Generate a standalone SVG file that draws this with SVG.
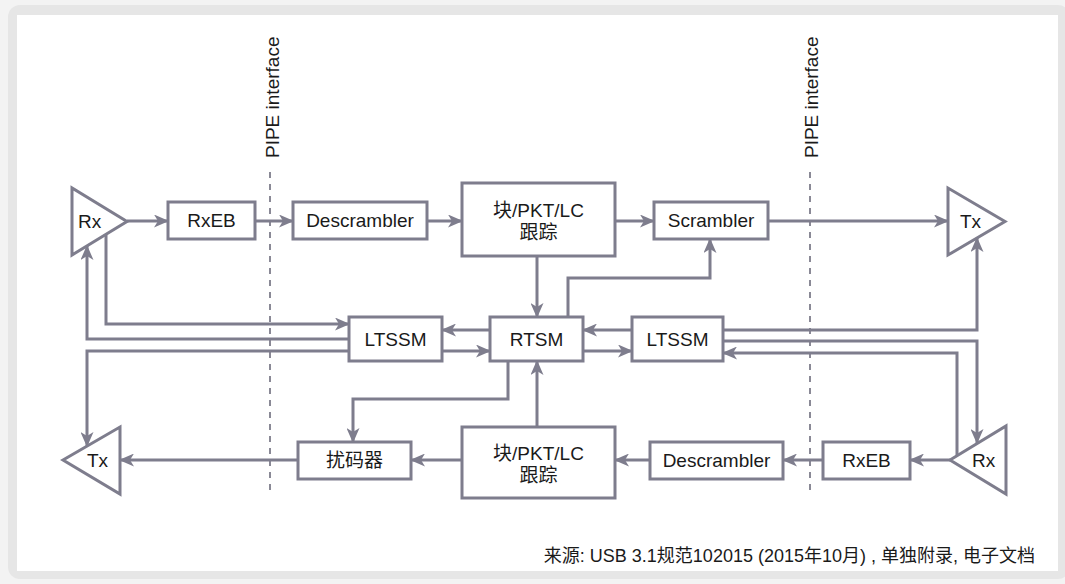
<svg xmlns="http://www.w3.org/2000/svg" width="1065" height="584" viewBox="0 0 1065 584">
<style>
.box{fill:#fff;stroke:#7e7d8d;stroke-width:3}
.tri{fill:#fff;stroke:#7e7d8d;stroke-width:3;stroke-linejoin:miter}
.lbl{font-family:"Liberation Sans","Noto Sans CJK SC",sans-serif;font-size:19px;fill:#1a1a1a}
.c{text-anchor:middle}
.con{fill:none;stroke:#7e7d8d;stroke-width:3;marker-end:url(#ah)}
.dash{stroke:#8a8996;stroke-width:2;stroke-dasharray:6 6;fill:none}
</style>
<defs>
<marker id="ah" viewBox="0 0 15 13" refX="14" refY="6.5" markerWidth="15" markerHeight="13" markerUnits="userSpaceOnUse" orient="auto">
<path d="M0,0 L15,6.5 L0,13 L4,6.5 Z" fill="#7e7d8d"/>
</marker>
</defs>
<rect x="0" y="0" width="1065" height="584" fill="#f3f3f3"/>
<rect x="8" y="5" width="1062" height="574" rx="12" fill="#e6e6e6"/>
<rect x="17" y="15" width="1041" height="556" fill="#ffffff"/>

<g id="pipe-left">
<line class="dash" x1="270" y1="172" x2="270" y2="494"/>
<text class="lbl" transform="translate(279,158) rotate(-90)">PIPE interface</text>
</g>
<g id="pipe-right">
<line class="dash" x1="810" y1="172" x2="810" y2="494"/>
<text class="lbl" transform="translate(818,158) rotate(-90)">PIPE interface</text>
</g>

<g id="connectors">
<path class="con" d="M127,221 H168"/>
<path class="con" d="M255,221 H293"/>
<path class="con" d="M427,221 H462"/>
<path class="con" d="M615,221 H654"/>
<path class="con" d="M768,221 H948"/>
<path class="con" d="M537,256 V317"/>
<path class="con" d="M568,317 V278 H710 V239"/>
<path class="con" d="M490,330 H442"/>
<path class="con" d="M442,351 H490"/>
<path class="con" d="M632,330 H583"/>
<path class="con" d="M583,351 H632"/>
<path class="con" d="M106,235 V324 H349"/>
<path class="con" d="M349,339 H87 V246"/>
<path class="con" d="M349,351 H87 V446"/>
<path class="con" d="M723,330 H977 V238"/>
<path class="con" d="M723,341 H977 V443"/>
<path class="con" d="M957,456 V353 H723"/>
<path class="con" d="M950,460 H910"/>
<path class="con" d="M823,460 H783"/>
<path class="con" d="M650,460 H615"/>
<path class="con" d="M462,460 H411"/>
<path class="con" d="M298,460 H120"/>
<path class="con" d="M537,427 V361"/>
<path class="con" d="M508,361 V399 H353 V442"/>
</g>

<g id="rx-top"><polygon class="tri" points="72,188 72,255 127,221.5"/><text class="lbl" x="78" y="228">Rx</text></g>
<g id="rxeb-top"><rect class="box" x="168" y="202" width="87" height="37"/><text class="lbl c" x="211.5" y="227">RxEB</text></g>
<g id="descrambler-top"><rect class="box" x="293" y="202" width="134" height="37"/><text class="lbl c" x="360" y="227">Descrambler</text></g>
<g id="block-top"><rect class="box" x="462" y="183" width="153" height="73"/><text class="lbl c" x="538.5" y="217">块/PKT/LC</text><text class="lbl c" x="538.5" y="239">跟踪</text></g>
<g id="scrambler-top"><rect class="box" x="654" y="202" width="114" height="37"/><text class="lbl c" x="711" y="227">Scrambler</text></g>
<g id="tx-top"><polygon class="tri" points="948,188 948,255 1005,221.5"/><text class="lbl" x="960" y="228">Tx</text></g>

<g id="ltssm-left"><rect class="box" x="349" y="317" width="93" height="44"/><text class="lbl c" x="395.5" y="346">LTSSM</text></g>
<g id="rtsm"><rect class="box" x="490" y="317" width="93" height="44"/><text class="lbl c" x="536.5" y="346">RTSM</text></g>
<g id="ltssm-right"><rect class="box" x="632" y="317" width="91" height="44"/><text class="lbl c" x="677.5" y="346">LTSSM</text></g>

<g id="tx-bottom"><polygon class="tri" points="63,460 120,427 120,494"/><text class="lbl" x="87" y="467">Tx</text></g>
<g id="scrambler-bottom"><rect class="box" x="298" y="442" width="113" height="37"/><text class="lbl c" x="354.5" y="467">扰码器</text></g>
<g id="block-bottom"><rect class="box" x="462" y="427" width="153" height="71"/><text class="lbl c" x="538.5" y="460">块/PKT/LC</text><text class="lbl c" x="538.5" y="482">跟踪</text></g>
<g id="descrambler-bottom"><rect class="box" x="650" y="442" width="133" height="37"/><text class="lbl c" x="716.5" y="467">Descrambler</text></g>
<g id="rxeb-bottom"><rect class="box" x="823" y="442" width="87" height="37"/><text class="lbl c" x="866.5" y="467">RxEB</text></g>
<g id="rx-bottom"><polygon class="tri" points="950,460 1006,426 1006,494"/><text class="lbl" x="972" y="467">Rx</text></g>

<text class="lbl" x="1035" y="562" style="font-size:18px;text-anchor:end">来源: USB 3.1规范102015 (2015年10月) , 单独附录, 电子文档</text>
</svg>
